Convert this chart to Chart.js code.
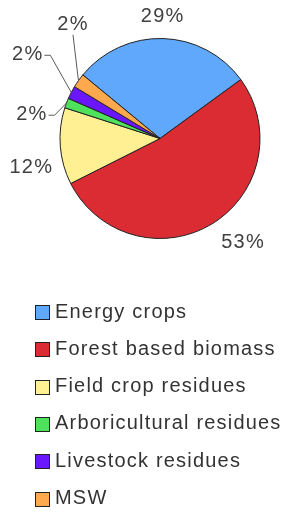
<!DOCTYPE html>
<html>
<head>
<meta charset="utf-8">
<script src="https://cdn.jsdelivr.net/npm/chart.js@4/dist/chart.umd.min.js"></script>
<style>
    html, body { margin: 0; padding: 0; background: #fff; overflow: hidden; }
    #wrap { width: 282px; height: 514px; }
</style>
</head>
<body>
<div id="wrap"><canvas id="chart-biomass" width="282" height="514"></canvas></div>
<script>
// Biomass potential by source - pie with outside % labels and a stacked legend
const categories = ['Energy crops', 'Forest based biomass', 'Field crop residues', 'Arboricultural residues', 'Livestock residues', 'MSW'];
const shares = [29.0, 52.6, 12.4, 1.6, 2.1, 2.3];
const sliceColors = ['#5fa8fb', '#dc2c33', '#fff193', '#4ee15b', '#6a17fd', '#ffa94e'];

const FONT = '"Liberation Sans", Arial, Helvetica, sans-serif';

// percentage labels just outside each slice, leader lines for the thin ones
const pctLabels = {
    id: 'pctLabels',
    afterDatasetsDraw(chart, args, opts) {
        const { ctx } = chart;
        const meta = chart.getDatasetMeta(0);
        const total = shares.reduce((s, v) => s + v, 0);
        ctx.save();
        ctx.font = `20px ${FONT}`;
        ctx.letterSpacing = '1.2px';
        ctx.textAlign = 'center';
        ctx.textBaseline = 'middle';
        ctx.lineWidth = 1;
        meta.data.forEach((arc, i) => {
            const { x, y, startAngle, endAngle, outerRadius } =
                arc.getProps(['x', 'y', 'startAngle', 'endAngle', 'outerRadius'], true);
            const mid = (startAngle + endAngle) / 2;
            const cos = Math.cos(mid), sin = Math.sin(mid);
            const [nx, ny] = opts.nudge[i] || [0, 0];
            const tx = x + cos * (outerRadius + opts.offset) + nx;
            const ty = y + sin * (outerRadius + opts.offset) + ny;
            const text = Math.round((shares[i] / total) * 100) + '%';
            ctx.fillStyle = '#404040';
            ctx.fillText(text, tx, ty);

            const lead = opts.leader[i];
            if (!lead) return;
            const w = ctx.measureText(text).width;
            ctx.strokeStyle = '#5a5a5a';
            ctx.beginPath();
            if (lead === 'side') {
                ctx.moveTo(tx + w / 2 + 1, ty + 1);
                ctx.lineTo(tx + w / 2 + 7, ty + 1);
            } else {
                ctx.moveTo(tx, ty + 10);
            }
            ctx.lineTo(x + cos * outerRadius, y + sin * outerRadius);
            ctx.stroke();
        });
        ctx.restore();
    },
};

// one legend entry per row, under the pie
const stackedLegend = {
    id: 'stackedLegend',
    afterDraw(chart, args, opts) {
        const { ctx, chartArea } = chart;
        const ds = chart.data.datasets[0];
        ctx.save();
        ctx.font = `20px ${FONT}`;
        ctx.letterSpacing = '1.2px';
        ctx.textAlign = 'left';
        ctx.textBaseline = 'middle';
        ctx.lineWidth = 1;
        chart.data.labels.forEach((label, i) => {
            const cy = chartArea.bottom + opts.top + i * opts.rowHeight;
            const top = Math.round(cy - opts.box / 2);
            ctx.fillStyle = ds.backgroundColor[i];
            ctx.fillRect(opts.x, top, opts.box, opts.box);
            ctx.strokeStyle = '#222';
            ctx.strokeRect(opts.x + 0.5, top + 0.5, opts.box - 1, opts.box - 1);
            ctx.fillStyle = '#333';
            ctx.fillText(label, opts.x + opts.box + opts.gap, cy - 0.5);
        });
        ctx.restore();
    },
};

const ctx = document.getElementById('chart-biomass').getContext('2d');
new Chart(ctx, {
    type: 'pie',
    data: {
        labels: categories,
        datasets: [
            {
                data: shares,
                backgroundColor: sliceColors,
                borderColor: '#222',
                borderWidth: 1,
                radius: 100,
                hoverOffset: 0,
            },
        ],
    },
    options: {
        responsive: false,
        animation: false,
        rotation: -50.5,
        layout: { padding: { left: 38, right: 0, top: 0, bottom: 237 } },
        events: [],
        plugins: {
            legend: { display: false },
            tooltip: { enabled: false },
            pctLabels: {
                offset: 22,
                nudge: [[-1, 0], [19.5, 0], [-7, 20], [-14, 19], [-24, -28], [12.5, -43]],
                leader: [null, null, null, 'side', 'side', 'below'],
            },
            stackedLegend: { x: 35, top: 35.5, rowHeight: 37.3, box: 15, gap: 5 },
        },
    },
    plugins: [pctLabels, stackedLegend],
});
</script>
</body>
</html>
